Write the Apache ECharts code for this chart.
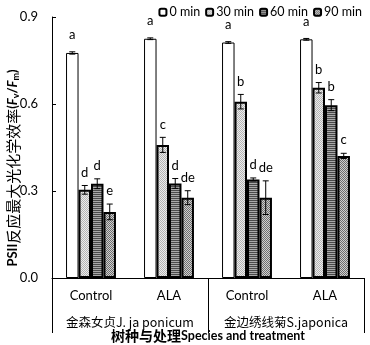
<!DOCTYPE html>
<html>
<head>
<meta charset="utf-8">
<script src="https://cdn.jsdelivr.net/npm/echarts@6/dist/echarts.min.js"></script>
<style>html,body{margin:0;padding:0;background:#fff}#c{width:370px;height:345px}</style>
</head>
<body>
<div id="c"></div>
<script>
// ---- data ----
var categories = ['Control', 'ALA', 'Control', 'ALA'];
var species = ['金森女贞J. ja ponicum', '金边绣线菊S.japonica'];
var times = ['0 min', '30 min', '60 min', '90 min'];
var yTicks = [0, 0.3, 0.6, 0.9];
var v0 = [0.776, 0.825, 0.812, 0.823];
var v30 = [0.304, 0.459, 0.608, 0.656];
var v60 = [0.325, 0.326, 0.340, 0.596];
var v90 = [0.228, 0.277, 0.277, 0.421];
var e0 = [0.004, 0.003, 0.003, 0.003];
var e30 = [0.015, 0.026, 0.025, 0.018];
var e60 = [0.017, 0.017, 0.005, 0.019];
var e90 = [0.027, 0.024, 0.058, 0.009];
var L0 = ['a', 'a', 'a', 'a'];
var L30 = ['d', 'c', 'b', 'b'];
var L60 = ['d', 'd', 'd', 'b'];
var L90 = ['e', 'de', 'de', 'c'];
var yTitle = '{b|PSII}{n|反应最大光化学效率}{b|(}{i|F}{s|v}{b|/}{i|F}{s|m}{b|)}';
var xTitle = '{c|树种与处理}{b|Species and treatment}';

var values = [v0, v30, v60, v90];
var errs = [e0, e30, e60, e90];
var letters = [L0, L30, L60, L90];

// ---- patterns ----
function makePattern(w, h, painter) {
  var cv = document.createElement('canvas');
  cv.width = w; cv.height = h;
  var ctx = cv.getContext('2d');
  painter(ctx);
  return { image: cv, repeat: 'repeat' };
}
var fills = [
  '#ffffff',
  makePattern(2, 2, function (c) {
    c.fillStyle = '#ececec'; c.fillRect(0, 0, 2, 2);
    c.fillStyle = '#b4b4b4'; c.fillRect(0, 0, 1, 1); c.fillRect(1, 1, 1, 1);
  }),
  makePattern(2, 2, function (c) {
    c.fillStyle = '#a8a8a8'; c.fillRect(0, 0, 2, 2);
    c.fillStyle = '#4a4a4a'; c.fillRect(0, 0, 2, 1);
  }),
  makePattern(2, 2, function (c) {
    c.fillStyle = '#cfcfcf'; c.fillRect(0, 0, 2, 2);
    c.fillStyle = '#6e6e6e'; c.fillRect(0, 0, 1, 1); c.fillRect(1, 1, 1, 1);
  })
];

var GAP = 0.36;
var latin = 'Lato, "Noto Sans CJK SC", sans-serif';
var cjk = '"Noto Sans CJK SC", Lato, sans-serif';

var series = [];
times.forEach(function (t, k) {
  series.push({
    name: t,
    type: 'bar',
    xAxisIndex: 0,
    barGap: '0%',
    barCategoryGap: (GAP * 100) + '%',
    data: values[k],
    itemStyle: { color: fills[k], borderColor: '#000', borderWidth: k === 0 ? 1 : 2 },
    z: 2
  });
});
times.forEach(function (t, k) {
  series.push({
    type: 'custom',
    xAxisIndex: 0,
    z: 5,
    silent: true,
    data: values[k].map(function (v, i) { return [i, v, errs[k][i]]; }),
    renderItem: function (params, api) {
      var cat = api.value(0), val = api.value(1), err = api.value(2);
      var c = api.coord([cat, val]);
      var catW = api.size([1, 0])[0];
      var barW = catW * (1 - GAP) / 4;
      var x = c[0] + (k - 1.5) * barW;
      var yt = api.coord([cat, val + err])[1];
      var yb = api.coord([cat, val - err])[1];
      var cap = 3;
      var st = { stroke: '#000', lineWidth: 1 };
      var lab = letters[k][params.dataIndex];
      return {
        type: 'group',
        children: [
          { type: 'line', shape: { x1: x, y1: yt, x2: x, y2: yb }, style: st },
          { type: 'line', shape: { x1: x - cap, y1: yt, x2: x + cap, y2: yt }, style: st },
          { type: 'line', shape: { x1: x - cap, y1: yb, x2: x + cap, y2: yb }, style: st },
          { type: 'text', style: { text: lab, x: x, y: yt - (k === 0 ? 17 : 13), align: 'center', verticalAlign: 'middle', fill: '#000', font: '13px ' + latin } }
        ]
      };
    }
  });
});

var chart = echarts.init(document.getElementById('c'), null, { renderer: 'canvas' });
chart.setOption({
  animation: false,
  backgroundColor: '#fff',
  legend: {
    data: times,
    top: 1,
    right: 3,
    itemWidth: 7,
    itemHeight: 7,
    itemGap: 5,
    textStyle: { fontSize: 12.5, color: '#000', fontFamily: latin, padding: [0, 0, 0, -2] }
  },
  grid: { left: 52, right: 6, top: 17, bottom: 67, outerBoundsMode: 'none', containLabel: false },
  graphic: [
    {
      type: 'text',
      x: 13,
      y: 168,
      rotation: Math.PI / 2,
      style: {
        text: yTitle,
        align: 'center',
        verticalAlign: 'middle',
        rich: {
          b: { fontSize: 13, fontWeight: 'bold', fontFamily: latin, fill: '#000' },
          n: { fontSize: 15, fontFamily: cjk, fill: '#000' },
          i: { fontSize: 13, fontWeight: 'bold', fontStyle: 'italic', fontFamily: latin, fill: '#000' },
          s: { fontSize: 9, fontWeight: 'bold', fontFamily: latin, fill: '#000', padding: [6, 0, 0, 0] }
        }
      }
    }
  ],
  xAxis: [
    {
      type: 'category',
      data: categories,
      position: 'bottom',
      axisLine: { show: true, lineStyle: { color: '#000', width: 1 } },
      axisTick: { show: false },
      axisLabel: { margin: 11, fontSize: 13, color: '#000', fontFamily: latin }
    },
    {
      type: 'category',
      data: species,
      position: 'bottom',
      offset: 0,
      axisLine: { show: false },
      axisTick: { show: true, length: 55, interval: 0, lineStyle: { color: '#000', width: 1 } },
      axisLabel: { margin: 38, fontSize: 12.5, color: '#000', fontFamily: cjk, interval: 0 },
      name: xTitle,
      nameLocation: 'middle',
      nameGap: 51,
      nameMoveOverlap: false,
      nameTextStyle: {
        rich: {
          c: { fontSize: 14, fontWeight: 'bold', fontFamily: cjk, color: '#000' },
          b: { fontSize: 12.5, fontWeight: 'bold', fontFamily: latin, color: '#000' }
        }
      }
    }
  ],
  yAxis: {
    type: 'value',
    min: 0,
    max: 0.9,
    interval: 0.3,
    splitLine: { show: false },
    axisLine: { show: true, lineStyle: { color: '#000', width: 1 } },
    axisTick: { show: true, inside: true, length: 4, lineStyle: { color: '#000' } },
    axisLabel: { margin: 14, fontSize: 13, color: '#000', fontFamily: latin,
      formatter: function (v) { return yTicks.indexOf(Math.round(v * 10) / 10) >= 0 ? v.toFixed(1) : ''; } }
  },
  series: series
});
</script>
</body>
</html>
